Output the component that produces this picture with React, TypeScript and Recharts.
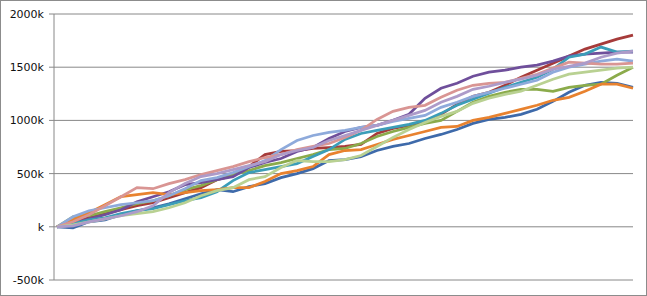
// Diez series acumuladas (paseos aleatorios) estilo hoja de cálculo, valores en miles.
import { CartesianGrid, Line, LineChart, XAxis, YAxis } from "recharts";

const STEPS = [
  0, 1, 2, 3, 4, 5, 6, 7, 8, 9, 10, 11, 12, 13, 14, 15, 16, 17, 18, 19, 20, 21, 22, 23, 24, 25, 26, 27, 28, 29,
  30, 31, 32, 33, 34, 35, 36,
];

const Y_TICKS = [-500, 0, 500, 1000, 1500, 2000];

const S1 = [0, -9, 47, 66, 113, 151, 179, 217, 264, 311, 349, 330, 377, 406, 462, 500, 547, 623, 632, 660, 717, 755, 783, 830, 868, 915, 972, 1009, 1028, 1057, 1104, 1179, 1264, 1330, 1358, 1349, 1311];
const S2 = [0, 47, 85, 123, 160, 198, 226, 274, 321, 368, 443, 481, 566, 679, 708, 717, 736, 745, 755, 774, 877, 925, 953, 991, 1057, 1151, 1226, 1264, 1330, 1406, 1472, 1538, 1604, 1670, 1717, 1764, 1802];
const S3 = [0, 94, 104, 142, 179, 217, 245, 292, 349, 387, 443, 491, 528, 575, 604, 642, 679, 726, 736, 783, 849, 896, 934, 972, 1000, 1085, 1170, 1226, 1264, 1292, 1292, 1274, 1311, 1330, 1340, 1425, 1500];
const S4 = [0, 28, 75, 113, 160, 236, 283, 330, 396, 415, 443, 472, 557, 604, 642, 708, 745, 830, 896, 934, 953, 1000, 1057, 1208, 1302, 1349, 1415, 1453, 1472, 1500, 1519, 1557, 1604, 1623, 1632, 1642, 1642];
const S5 = [0, 28, 66, 85, 123, 151, 170, 208, 245, 274, 330, 434, 509, 538, 566, 594, 660, 726, 821, 877, 906, 934, 962, 1000, 1066, 1142, 1198, 1255, 1311, 1358, 1406, 1481, 1594, 1623, 1689, 1642, 1651];
const S6 = [0, 66, 132, 208, 283, 302, 321, 302, 321, 340, 349, 368, 368, 425, 500, 528, 566, 679, 717, 726, 774, 821, 858, 896, 934, 943, 1000, 1028, 1066, 1104, 1142, 1189, 1217, 1274, 1340, 1340, 1302];
const S7 = [0, 94, 151, 179, 208, 226, 245, 292, 358, 434, 462, 509, 566, 623, 726, 811, 858, 887, 906, 934, 953, 991, 1019, 1047, 1123, 1170, 1226, 1264, 1302, 1340, 1377, 1453, 1500, 1528, 1557, 1575, 1557];
const S8 = [0, 47, 113, 198, 283, 368, 358, 406, 443, 491, 528, 566, 613, 651, 679, 726, 755, 783, 840, 906, 1009, 1085, 1123, 1142, 1217, 1283, 1330, 1349, 1358, 1396, 1434, 1491, 1547, 1538, 1528, 1528, 1538];
const S9 = [0, 19, 47, 75, 104, 123, 142, 179, 226, 292, 340, 368, 443, 472, 557, 623, 613, 613, 632, 670, 755, 840, 915, 981, 1038, 1085, 1160, 1208, 1245, 1274, 1330, 1387, 1434, 1453, 1472, 1491, 1500];
const S10 = [0, 9, 47, 75, 104, 142, 198, 321, 406, 472, 500, 538, 575, 613, 679, 717, 745, 811, 858, 906, 953, 1000, 1047, 1094, 1170, 1226, 1292, 1321, 1358, 1387, 1425, 1481, 1509, 1538, 1594, 1632, 1651];

const SERIES = [
  { key: "s1", values: S1, color: "#3e6aaa" },
  { key: "s2", values: S2, color: "#a63b3a" },
  { key: "s3", values: S3, color: "#8bab4b" },
  { key: "s4", values: S4, color: "#6f4f9b" },
  { key: "s5", values: S5, color: "#3b9db8" },
  { key: "s6", values: S6, color: "#e8822f" },
  { key: "s7", values: S7, color: "#8eaadb" },
  { key: "s8", values: S8, color: "#d99593" },
  { key: "s9", values: S9, color: "#b9d192" },
  { key: "s10", values: S10, color: "#ad9bc9" },
];

const data = STEPS.map((step, i) => {
  const row: Record<string, number> = { step };
  SERIES.forEach((s) => {
    row[s.key] = s.values[i];
  });
  return row;
});

const GRAY = "#888888";

export default function App() {
  return (
    <div style={{ position: "absolute", left: 0, top: 0, width: 647, height: 296, background: "#fff" }}>
      <LineChart width={647} height={296} data={data} margin={{ top: 14, right: 14, bottom: 16, left: 0 }}>
        <CartesianGrid horizontal vertical={false} stroke={GRAY} strokeWidth={1} />
        <XAxis dataKey="step" hide padding={{ left: 3, right: 0 }} />
        <YAxis
          width={54}
          domain={[-500, 2000]}
          ticks={Y_TICKS}
          interval={0}
          tickFormatter={(v: number) => (v === 0 ? "k" : `${v}k`)}
          tick={{ fontSize: 11, fill: "#111", fontFamily: "DejaVu Sans" }}
          tickSize={5}
          tickMargin={5}
          tickLine={{ stroke: GRAY }}
          axisLine={{ stroke: GRAY }}
        />
        {SERIES.map((s) => (
          <Line
            key={s.key}
            dataKey={s.key}
            stroke={s.color}
            strokeWidth={2.75}
            dot={false}
            type="linear"
            isAnimationActive={false}
          />
        ))}
      </LineChart>
      <div
        style={{
          position: "absolute",
          inset: 0,
          border: "1px solid #8c8c8c",
          boxSizing: "border-box",
          pointerEvents: "none",
        }}
      />
    </div>
  );
}
